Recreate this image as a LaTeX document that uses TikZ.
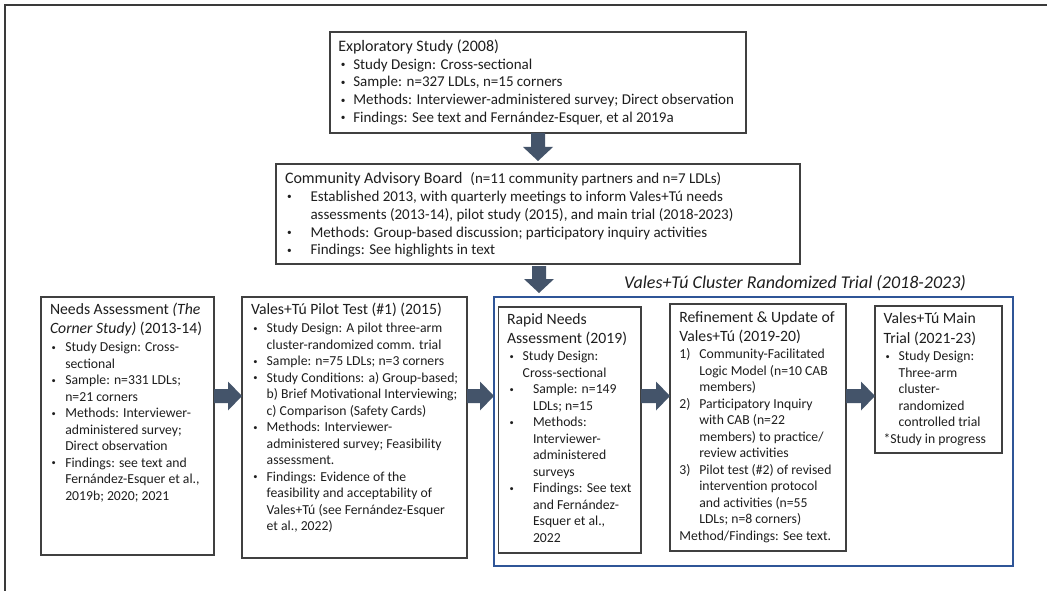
\documentclass[tikz,border=0pt]{standalone}
\usepackage{fontspec}
\usepackage{graphicx}
\setmainfont{Carlito}
\usetikzlibrary{calc}
\definecolor{arrowblue}{HTML}{44546A}
\definecolor{trialblue}{HTML}{2F5597}
\definecolor{boxgray}{HTML}{404040}
\definecolor{framegray}{HTML}{3A3A3A}
\definecolor{inktext}{HTML}{1E1E1E}
\newlength\bulletoff
\newlength\itemind
% small bullet glyph
\newcommand\dotmark{\raisebox{0.1em}{\scalebox{0.62}{\textbullet}}}
% bullet line, continuation line, numbered line
\newcommand\itm[1]{\makebox[\itemind][l]{\hspace*{\bulletoff}\dotmark}#1}
\newcommand\cnt[1]{\hspace*{\itemind}#1}
\newcommand\num[2]{\makebox[\itemind][l]{#1}#2}
\newcommand\toptitle{\fontsize{16}{17.8}\selectfont}
\newcommand\lowtitle{\fontsize{15.7}{16.5}\selectfont}
% block arrows between named points
\newcommand\downblock[2]{\fill[arrowblue] ($(#1)+(-7,0)$) -- ($(#2)+(-7,-14)$) -- ($(#2)+(-15,-14)$) -- (#2) -- ($(#2)+(15,-14)$) -- ($(#2)+(7,-14)$) -- ($(#1)+(7,0)$) -- cycle;}
\newcommand\rightblock[2]{\fill[arrowblue] ($(#1)+(0,-7)$) -- ($(#2)+(-14,-7)$) -- ($(#2)+(-14,-14.5)$) -- (#2) -- ($(#2)+(-14,14.5)$) -- ($(#2)+(-14,7)$) -- ($(#1)+(0,7)$) -- cycle;}
\begin{document}
\begin{tikzpicture}[x=1pt,y=-1pt,
  box/.style={draw=boxgray, line width=1.2pt, fill=white, inner sep=0pt, outer sep=0pt, anchor=north west},
  txt/.style={anchor=north west, inner sep=0pt, outer sep=0pt, align=left, text=inktext},
  topfont/.style={font=\fontsize{15}{17.8}\selectfont},
  lowfont/.style={font=\fontsize{13.7}{16.5}\selectfont}]
\useasboundingbox (0,0) rectangle (1047,591);
\fill[white] (0,0) rectangle (1047,591);
\draw[framegray, line width=1.8pt] (1047,5) -- (5,5) -- (5,591);

% trial frame and its heading
\node[box, draw=trialblue, line width=1.4pt, minimum width=519pt, minimum height=269pt] (trial) at (494,297) {};
\node[anchor=west, inner sep=0pt, text=inktext, font=\fontsize{18}{20}\selectfont\itshape] (trialT) at (624,283) {Vales+Tú Cluster Randomized Trial (2018-2023)};

% exploratory study
\node[box, minimum width=416pt, minimum height=101pt] (expl) at (330,32) {};
\global\bulletoff=2.5pt \global\itemind=15pt
\node[txt, topfont] (explT) at (338.3,39.5) {{\toptitle Exploratory Study (2008)}\\
\itm{Study Design: Cross-sectional}\\
\itm{Sample: n=327 LDLs, n=15 corners}\\
\itm{Methods: Interviewer-administered survey; Direct observation}\\
\itm{Findings: See text and Fernández-Esquer, et al 2019a}};

% community advisory board
\node[box, minimum width=524pt, minimum height=100pt] (cab) at (276,164) {};
\global\bulletoff=2pt \global\itemind=25.5pt
\node[txt, topfont] (cabT) at (285,172.5) {{\toptitle Community Advisory Board}\hspace{0.3em} (n=11 community partners and n=7 LDLs)\\
\itm{Established 2013, with quarterly meetings to inform Vales+Tú needs}\\
\cnt{assessments (2013-14), pilot study (2015), and main trial (2018-2023)}\\
\itm{Methods: Group-based discussion; participatory inquiry activities}\\
\itm{Findings: See highlights in text}};

% needs assessment
\node[box, minimum width=173pt, minimum height=258pt] (needs) at (41,297) {};
\global\bulletoff=1.7pt \global\itemind=15.3pt
\node[txt, lowfont] (needsT) at (50,302.9) {{\lowtitle Needs Assessment \textit{(The}}\\[2.8pt]
{\lowtitle\textit{Corner Study)} (2013-14)}\\[1.5pt]
\itm{Study Design: Cross-}\\
\cnt{sectional}\\
\itm{Sample: n=331 LDLs;}\\
\cnt{n=21 corners}\\
\itm{Methods: Interviewer-}\\
\cnt{administered survey;}\\
\cnt{Direct observation}\\
\itm{Findings: see text and}\\
\cnt{Fernández-Esquer et al.,}\\
\cnt{2019b; 2020; 2021}};

% pilot test
\node[box, minimum width=225pt, minimum height=261pt] (pilot) at (242,297) {};
\global\bulletoff=2.3pt \global\itemind=15.7pt
\node[txt, lowfont] (pilotT) at (251,302.9) {{\lowtitle Vales+Tú Pilot Test (\#1) (2015)}\\[1.8pt]
\itm{Study Design: A pilot three-arm}\\
\cnt{cluster-randomized comm. trial}\\
\itm{Sample: n=75 LDLs; n=3 corners}\\
\itm{Study Conditions: a) Group-based;}\\
\cnt{b) Brief Motivational Interviewing;}\\
\cnt{c) Comparison (Safety Cards)}\\
\itm{Methods: Interviewer-}\\
\cnt{administered survey; Feasibility}\\
\cnt{assessment.}\\
\itm{Findings: Evidence of the}\\
\cnt{feasibility and acceptability of}\\
\cnt{Vales+Tú (see Fernández-Esquer}\\
\cnt{et al., 2022)}};

% rapid needs assessment
\node[box, minimum width=142.5pt, minimum height=246pt] (rapid) at (498.5,307) {};
\global\bulletoff=2.5pt \global\itemind=15.7pt
\node[txt, lowfont] (rapidT) at (507,313.2) {{\lowtitle Rapid Needs}\\[2.5pt]
{\lowtitle Assessment (2019)}\\[1.2pt]
\itm{Study Design:}\\
\cnt{Cross-sectional}\\
\global\itemind=26pt\itm{Sample: n=149}\\
\global\itemind=26pt\cnt{LDLs; n=15}\\
\global\itemind=26pt\itm{Methods:}\\
\global\itemind=26pt\cnt{Interviewer-}\\
\global\itemind=26pt\cnt{administered}\\
\global\itemind=26pt\cnt{surveys}\\
\global\itemind=26pt\itm{Findings: See text}\\
\global\itemind=26pt\cnt{and Fernández-}\\
\global\itemind=26pt\cnt{Esquer et al.,}\\
\global\itemind=26pt\cnt{2022}};

% refinement and update
\node[box, minimum width=176pt, minimum height=247pt] (refine) at (670,304) {};
\global\itemind=20pt
\node[txt, lowfont] (refineT) at (679.3,311.5) {{\lowtitle Refinement \& Update of}\\[2.5pt]
{\lowtitle Vales+Tú (2019-20)}\\[0.8pt]
\num{1)}{Community-Facilitated}\\
\cnt{Logic Model (n=10 CAB}\\
\cnt{members)}\\
\num{2)}{Participatory Inquiry}\\
\cnt{with CAB (n=22}\\
\cnt{members) to practice/}\\
\cnt{review activities}\\
\num{3)}{Pilot test (\#2) of revised}\\
\cnt{intervention protocol}\\
\cnt{and activities (n=55}\\
\cnt{LDLs; n=8 corners)}\\
Method/Findings: See text.};

% main trial
\node[box, minimum width=127pt, minimum height=147pt] (main) at (875,306) {};
\global\bulletoff=2pt \global\itemind=15pt
\node[txt, lowfont] (mainT) at (883.6,312.2) {{\lowtitle Vales+Tú Main}\\[3.5pt]
{\lowtitle Trial (2021-23)}\\[1.2pt]
\itm{Study Design:}\\
\cnt{Three-arm}\\
\cnt{cluster-}\\
\cnt{randomized}\\
\cnt{controlled trial}\\
*Study in progress};

% connectors
\coordinate (row) at (0,396);
\coordinate (a1s) at (expl.south);
\coordinate (a1e) at ($(cab.north)+(0,-3)$);
\coordinate (a2s) at ($(cab.south)+(1,2)$);
\coordinate (a2e) at ($(trial.north -| cab.south)+(1,-4)$);
\downblock{a1s}{a1e}
\downblock{a2s}{a2e}
\coordinate (h1s) at (needs.east |- row);
\coordinate (h1e) at (pilot.west |- row);
\coordinate (h2s) at (pilot.east |- row);
\coordinate (h2e) at (trial.west |- row);
\coordinate (h3s) at (rapid.east |- row);
\coordinate (h3e) at (refine.west |- row);
\coordinate (h4s) at (refine.east |- row);
\coordinate (h4e) at (main.west |- row);
\rightblock{h1s}{h1e}
\rightblock{h2s}{h2e}
\rightblock{h3s}{h3e}
\rightblock{h4s}{h4e}
\end{tikzpicture}
\end{document}
